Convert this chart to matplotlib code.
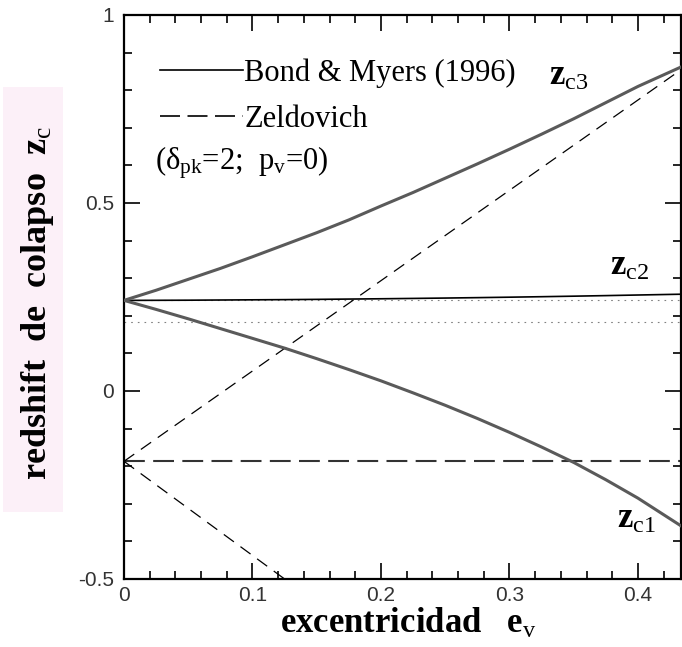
import numpy as np
import matplotlib
matplotlib.use("Agg")
import matplotlib.pyplot as plt
from matplotlib.lines import Line2D
from matplotlib.patches import Rectangle

plt.rcParams['font.family'] = ['Liberation Serif', 'DejaVu Serif']
plt.rcParams['mathtext.fontset'] = 'custom'
plt.rcParams['mathtext.rm'] = 'Liberation Serif'
plt.rcParams['mathtext.it'] = 'Liberation Serif:italic'
plt.rcParams['mathtext.bf'] = 'Liberation Serif:bold'

# excentricidad e_v
ecc = [0.0, 0.025, 0.05, 0.075, 0.10, 0.125, 0.15, 0.175, 0.20,
       0.225, 0.25, 0.275, 0.30, 0.325, 0.35, 0.375, 0.40, 0.435]
# Bond & Myers (1996): redshift de colapso por eje
zc1 = [0.241, 0.217, 0.192, 0.166, 0.140, 0.114, 0.086, 0.057, 0.027,
       -0.005, -0.038, -0.073, -0.110, -0.149, -0.190, -0.236, -0.285, -0.362]
zc2 = [0.241, 0.2412, 0.2415, 0.242, 0.2425, 0.243, 0.2437, 0.2445, 0.2453,
       0.2462, 0.2472, 0.2483, 0.2495, 0.2508, 0.2522, 0.2537, 0.2553, 0.2575]
zc3 = [0.241, 0.268, 0.297, 0.326, 0.357, 0.389, 0.421, 0.455, 0.492,
       0.528, 0.566, 0.604, 0.643, 0.683, 0.724, 0.767, 0.810, 0.864]
# Zeldovich (rectas)
ecc_zel = [0.0, 0.435]
zel_up = [-0.187, 0.858]
zel_flat = [-0.187, -0.187]
ecc_zel_down = [0.0, 0.125]
zel_down = [-0.187, -0.5]
# niveles de referencia (punteados)
ref_levels = [0.241, 0.183]

xticks = [0, 0.1, 0.2, 0.3, 0.4]
xticklabels = ['0', '0.1', '0.2', '0.3', '0.4']
yticks = [-0.5, 0, 0.5, 1]
yticklabels = ['-0.5', '0', '0.5', '1']

fig = plt.figure(figsize=(6.82, 6.47), dpi=100)
ax = fig.add_axes([124/682, 68/647, 557/682, 564/647])

# fondo rosado de la etiqueta del eje y
fig.patches.append(Rectangle((3/682, 135/647), 60/682, 425/647,
                             transform=fig.transFigure, facecolor='#fcf0f8',
                             edgecolor='none', zorder=0))

for lev in ref_levels:
    ax.axhline(lev, color='#808080', lw=0.8, ls=(0, (1.5, 4.5)), zorder=1)

ax.plot(ecc_zel, zel_flat, color='#333333', lw=1.5, ls=(0, (10, 4)), zorder=2)
ax.plot(ecc_zel, zel_up, color='black', lw=0.9, ls=(0, (10, 6.5)), zorder=2)
ax.plot(ecc_zel_down, zel_down, color='black', lw=0.9, ls=(0, (10, 6.5)), zorder=2)

ax.plot(ecc, zc2, color='black', lw=1.2, zorder=3)
ax.plot(ecc, zc3, color='#5a5a5a', lw=2.2, zorder=3)
ax.plot(ecc, zc1, color='#5a5a5a', lw=2.2, zorder=3)

ax.set_xlim(0, 0.4335)
ax.set_ylim(-0.5, 1)

ax.set_xticks(xticks)
ax.set_xticklabels(xticklabels)
ax.set_yticks(yticks)
ax.set_yticklabels(yticklabels)
ax.set_xticks(np.arange(0, 0.44, 0.02), minor=True)
ax.set_yticks(np.arange(-0.5, 1.01, 0.1), minor=True)
ax.tick_params(which='both', direction='in', top=True, right=True, width=1.2)
ax.tick_params(which='major', length=11.5, labelsize=15, labelcolor='#333333')
ax.tick_params(which='minor', length=6)
ax.tick_params(axis='x', pad=5)
ax.tick_params(axis='y', pad=7)
for lab in ax.get_xticklabels() + ax.get_yticklabels():
    lab.set_family(['Liberation Sans', 'DejaVu Sans'])
for sp in ax.spines.values():
    sp.set_linewidth(1.6)

handles = [Line2D([], [], color='black', lw=1.2),
           Line2D([], [], color='black', lw=1.2, ls=(0, (12, 4.5)))]
ax.legend(handles, ['Bond & Myers (1996)', 'Zeldovich'], loc='upper left',
          bbox_to_anchor=(0.065, 0.923), frameon=False, fontsize=22,
          handlelength=2.7, handletextpad=0.05, labelspacing=0.55,
          borderpad=0, borderaxespad=0)
ax.text(0.024, 0.588, r'($\mathrm{δ}_{\mathrm{pk}}$=2;  p$_{\mathrm{v}}$=0)',
        fontsize=22, va='baseline', ha='left')

ax.text(0.331, 0.814, r'$\mathbf{z}_{\mathrm{c3}}$', fontsize=25, va='baseline')
ax.text(0.378, 0.309, r'$\mathbf{z}_{\mathrm{c2}}$', fontsize=25, va='baseline')
ax.text(0.384, -0.364, r'$\mathbf{z}_{\mathrm{c1}}$', fontsize=25, va='baseline')

fig.text(38/682, 344/647, r'redshift  de  colapso  $\mathbf{z}_{\mathrm{c}}$',
         rotation=90, ha='center', va='center', fontsize=26, fontweight='bold')
fig.text(280/682, 14/647, r'excentricidad   $\mathbf{e}_{\mathrm{v}}$',
         ha='left', va='baseline', fontsize=25, fontweight='bold')

fig.savefig('out.png', dpi=100)
